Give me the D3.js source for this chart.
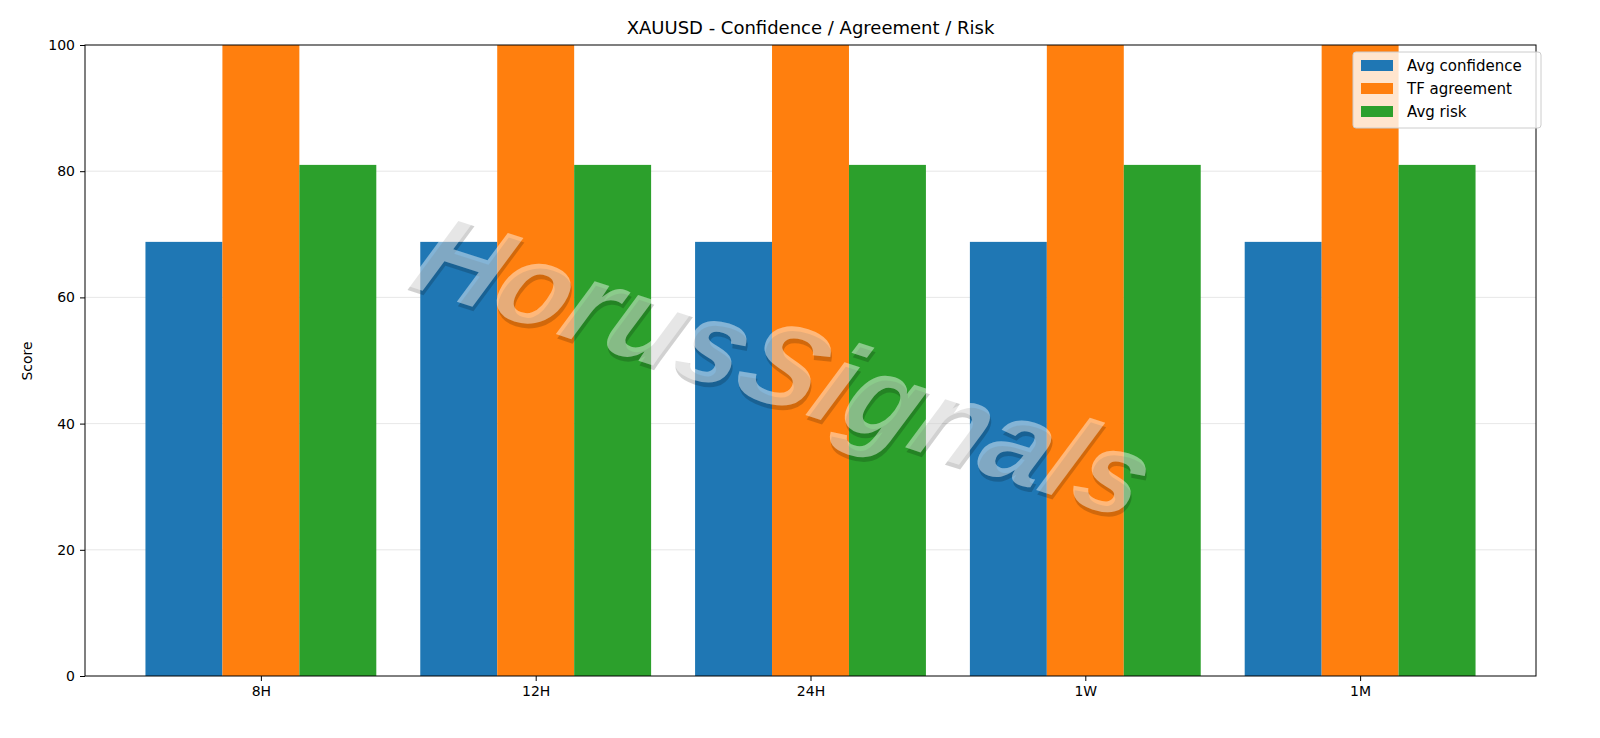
<!DOCTYPE html><html><head><meta charset="utf-8"><script src="https://cdn.jsdelivr.net/npm/d3@7"></script>
<style>body{margin:0;background:#fff}text{font-family:"DejaVu Sans",sans-serif}</style></head><body><svg id="c" width="1600" height="738"></svg><script>
const categories=["8H","12H","24H","1W","1M"];
const seriesNames=["Avg confidence","TF agreement","Avg risk"];
const avgConfidence=[68.8,68.8,68.8,68.8,68.8];
const tfAgreement=[100,100,100,100,100];
const avgRisk=[81,81,81,81,81];
const yTicks=[0,20,40,60,80,100];
const colors=["#1f77b4","#ff7f0e","#2ca02c"];
const series=[avgConfidence,tfAgreement,avgRisk];
const svg=d3.select("#c");
const L=85,R=1536,T=45,B=676;
const x=d3.scaleLinear().domain([-0.64,4.64]).range([L,R]);
const y=d3.scaleLinear().domain([0,100]).range([B,T]);
const bw=0.28;
svg.append("g").selectAll("line").data(yTicks.slice(1,-1)).join("line")
 .attr("x1",L).attr("x2",R).attr("y1",d=>y(d)).attr("y2",d=>y(d)).attr("stroke","#b0b0b0").attr("stroke-opacity",0.3);
series.forEach((s,si)=>{
 svg.append("g").selectAll("rect").data(s).join("rect")
  .attr("x",(d,i)=>x(i+(si-1.5)*bw)).attr("width",x(bw)-x(0))
  .attr("y",d=>y(d)).attr("height",d=>B-y(d)).attr("fill",colors[si]);
});
const wm=svg.append("g").attr("transform","translate(780,374) rotate(18) skewX(-8)");
wm.append("text").attr("x",3).attr("y",4).attr("text-anchor","middle").attr("dominant-baseline","middle")
 .attr("font-size",118).attr("font-weight","bold").attr("font-style","italic").attr("fill","#000").attr("fill-opacity",0.18)
 .style("font-family","Liberation Sans").text("HorusSignals");
wm.append("text").attr("text-anchor","middle").attr("dominant-baseline","middle")
 .attr("font-size",118).attr("font-weight","bold").attr("font-style","italic").attr("fill","#fff").attr("fill-opacity",0.45)
 .style("font-family","Liberation Sans").text("HorusSignals");
const xa=svg.append("g").attr("transform",`translate(0,${B})`).call(d3.axisBottom(x).tickValues(d3.range(5)).tickFormat(i=>categories[i]).tickSize(5).tickPadding(5));
const ya=svg.append("g").attr("transform",`translate(${L},0)`).call(d3.axisLeft(y).tickValues(yTicks).tickSize(5).tickPadding(5));
[xa,ya].forEach(a=>{a.select(".domain").remove();a.selectAll("text").attr("font-size",14).style("font-family","DejaVu Sans").attr("fill","#000");});
svg.append("rect").attr("x",L).attr("y",T).attr("width",R-L).attr("height",B-T).attr("fill","none").attr("stroke","#000");
svg.append("text").attr("x",(L+R)/2).attr("y",34).attr("text-anchor","middle").attr("font-size",18).text("XAUUSD - Confidence / Agreement / Risk");
svg.append("text").attr("transform","translate(32,361) rotate(-90)").attr("text-anchor","middle").attr("font-size",14).text("Score");
const lg=svg.append("g").attr("transform","translate(1353,52)");
lg.append("rect").attr("width",188).attr("height",76).attr("rx",3).attr("fill","#fff").attr("fill-opacity",0.8).attr("stroke","#ccc");
seriesNames.forEach((n,i)=>{
 lg.append("rect").attr("x",8).attr("y",8+i*23).attr("width",32).attr("height",11).attr("fill",colors[i]);
 lg.append("text").attr("x",54).attr("y",19+i*23).attr("font-size",15).text(n);
});
</script></body></html>
